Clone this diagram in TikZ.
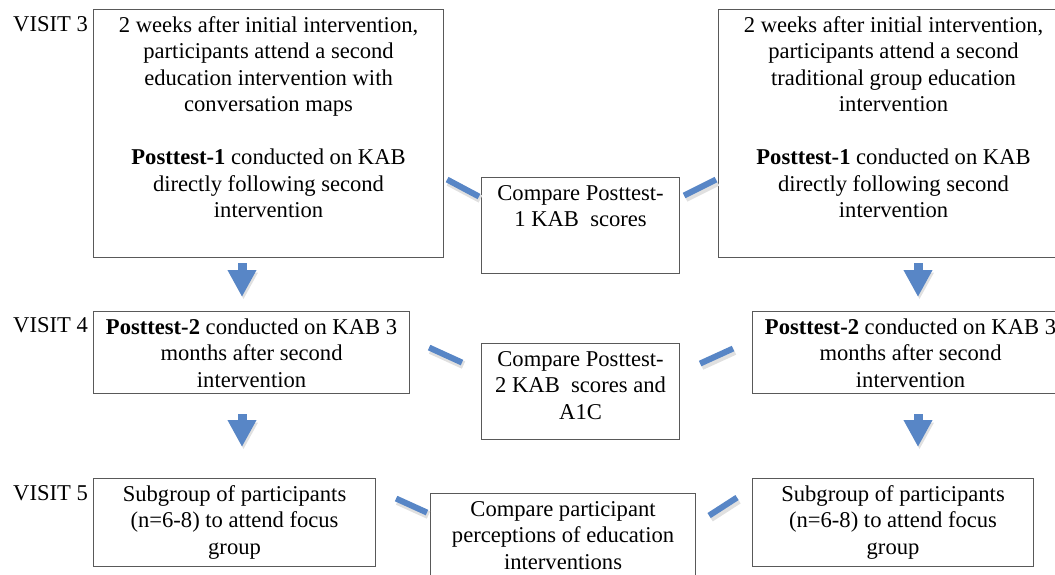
\documentclass[tikz,border=0pt]{standalone}
\usepackage{fontspec}
\setmainfont{Liberation Serif}
\usetikzlibrary{arrows.meta, calc}
\definecolor{flowblue}{RGB}{88,134,198}
\newcommand{\boxtext}[3]{\parbox[c][#2][t]{#1}{\centering\strut #3}}
\tikzset{
  stage/.style = {draw=black!65, line width=1.1pt, fill=white, inner xsep=4pt, inner ysep=4pt,
                  anchor=north west, font=\fontsize{22.6pt}{26.5pt}\selectfont},
  visit/.style = {anchor=base west, inner sep=0pt, font=\fontsize{22.6pt}{26.5pt}\selectfont},
  blueshadow/.style = {preaction={draw=black!12, line width=#1, transform canvas={shift={(1.5pt,-2.5pt)}}}},
  downarrow/.style = {draw=flowblue, line width=9pt, -{Triangle[width=27pt,length=27pt]},
                      preaction={draw=black!12, transform canvas={shift={(1.5pt,-2.5pt)}}}},
  linkbar/.style = {draw=flowblue, line width=6pt, blueshadow=8pt}
}

\begin{document}
\begin{tikzpicture}[x=1pt, y=-1pt]
\useasboundingbox (0,0) rectangle (1055,575);
\clip (0,0) rectangle (1055,575);
\node[visit] (v3) at (13,32) {VISIT 3};
\node[visit] (v4) at (13,332) {VISIT 4};
\node[visit] (v5) at (13,500) {VISIT 5};
\node[stage] (L1) at (93,9) {\boxtext{342pt}{240pt}{2 weeks after initial intervention,\\ participants attend a second\\ education intervention with\\ conversation maps\\[26.5pt] \textbf{Posttest-1} conducted on KAB\\ directly following second\\ intervention}};
\node[stage] (M1) at (481,177) {\boxtext{190pt}{88pt}{Compare Posttest-\\ 1 KAB\ \ scores}};
\node[stage] (R1) at (718,9) {\boxtext{342pt}{240pt}{2 weeks after initial intervention,\\ participants attend a second\\ traditional group education\\ intervention\\[26.5pt] \textbf{Posttest-1} conducted on KAB\\ directly following second\\ intervention}};
\node[stage] (L2) at (93,311) {\boxtext{308pt}{74pt}{\textbf{Posttest-2} conducted on KAB 3\\ months after second\\ intervention}};
\node[stage] (M2) at (481,343) {\boxtext{190pt}{88pt}{Compare Posttest-\\ 2 KAB\ \ scores and\\ A1C}};
\node[stage] (R2) at (752,311) {\boxtext{308pt}{74pt}{\textbf{Posttest-2} conducted on KAB 3\\ months after second\\ intervention}};
\node[stage] (L3) at (93,478) {\boxtext{274pt}{80pt}{Subgroup of participants\\ (n=6-8) to attend focus\\ group}};
\node[stage] (M3) at (430,493) {\boxtext{257pt}{84pt}{Compare participant\\ perceptions of education\\ interventions}};
\node[stage] (R3) at (752,478) {\boxtext{273pt}{80pt}{Subgroup of participants\\ (n=6-8) to attend focus\\ group}};
\draw[downarrow] ([xshift=149pt,yshift=-5pt]L1.south west) -- ([xshift=149pt,yshift=14pt]L2.north west);
\draw[downarrow] ([xshift=149pt,yshift=-20pt]L2.south west) -- ([xshift=149pt,yshift=31pt]L3.north west);
\draw[downarrow] ([xshift=200pt,yshift=-5pt]R1.south west) -- ([xshift=166pt,yshift=14pt]R2.north west);
\draw[downarrow] ([xshift=166pt,yshift=-20pt]R2.south west) -- ([xshift=166pt,yshift=31pt]R3.north west);
\draw[linkbar] ([xshift=3pt,yshift=-46pt]L1.east) -- ([xshift=-2pt,yshift=29pt]M1.west);
\draw[linkbar] ([xshift=4pt,yshift=30pt]M1.east) -- ([xshift=-2pt,yshift=-46pt]R1.west);
\draw[linkbar] ([xshift=19pt,yshift=5pt]L2.east) -- ([xshift=-19pt,yshift=29pt]M2.west);
\draw[linkbar] ([xshift=20pt,yshift=28pt]M2.east) -- ([xshift=-19pt,yshift=4pt]R2.west);
\draw[linkbar] ([xshift=20pt,yshift=24pt]L3.east) -- ([xshift=-3pt,yshift=27pt]M3.west);
\draw[linkbar] ([xshift=13pt,yshift=24pt]M3.east) -- ([xshift=-15pt,yshift=25pt]R3.west);
\end{tikzpicture}
\end{document}
